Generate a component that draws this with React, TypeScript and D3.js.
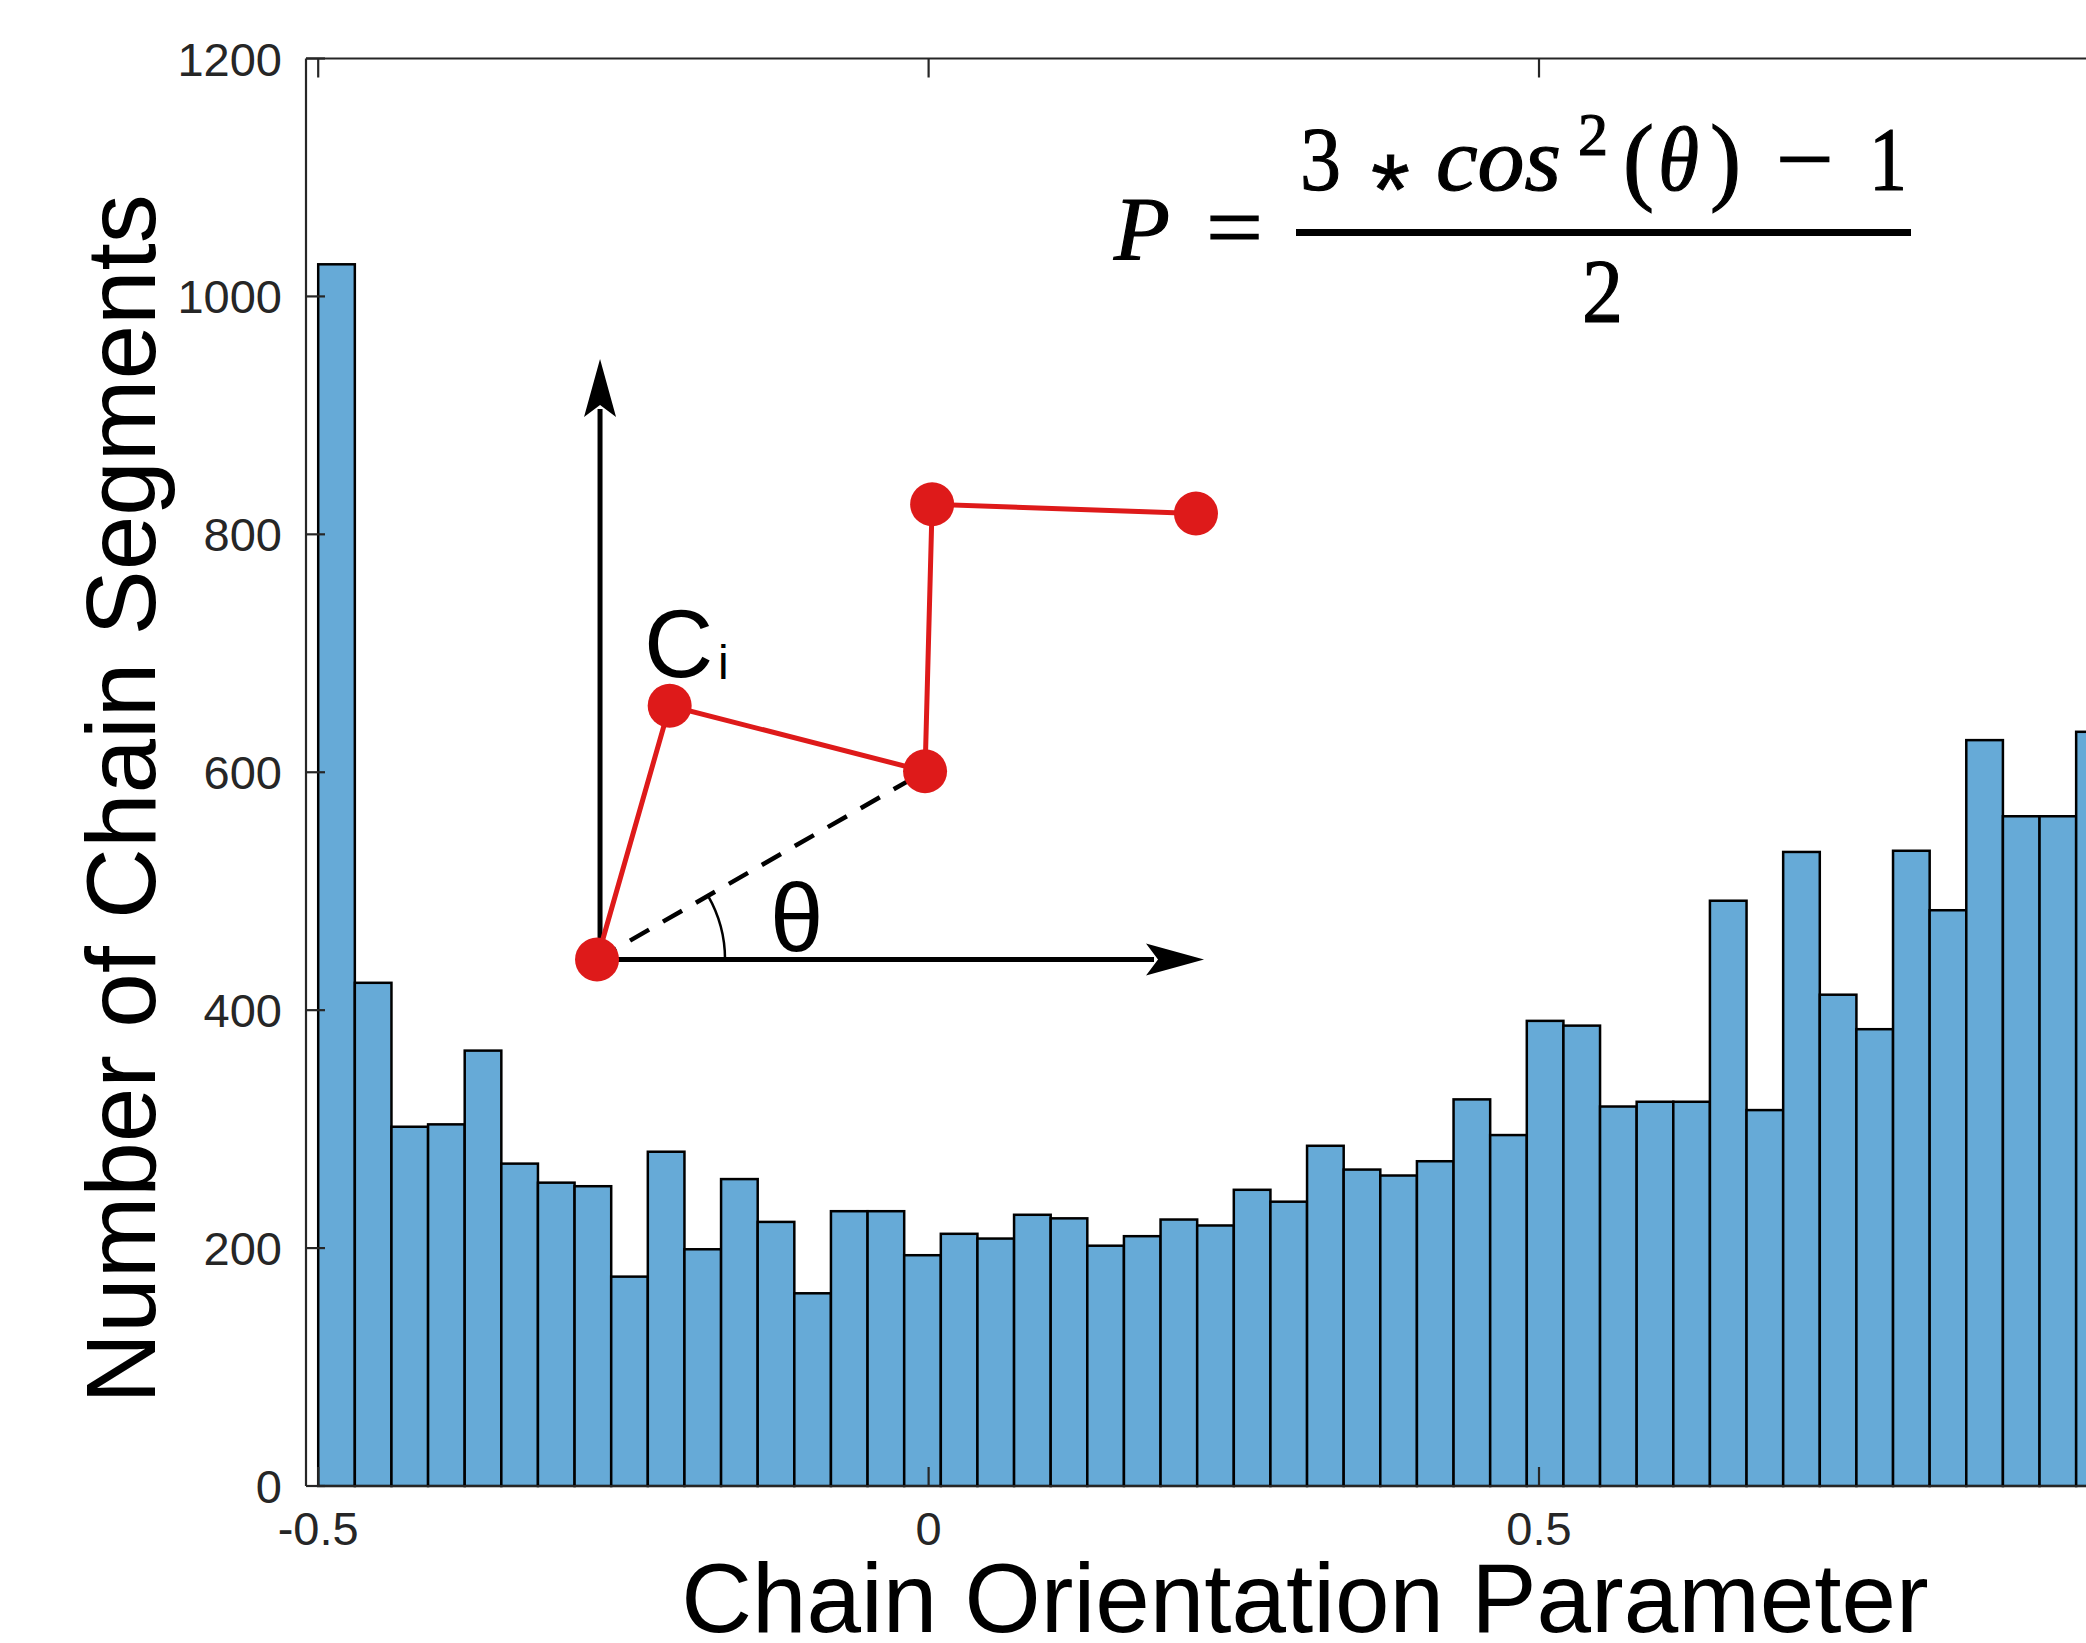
import { useEffect } from 'react'
import * as d3 from 'd3'

// histogram: bins of width 0.03 starting at -0.5 (last bins fall outside the cropped figure)
const BIN_START = -0.5
const BIN_WIDTH = 0.03
const counts = [
  1027, 423, 302, 304, 366, 271, 255, 252, 176, 281,
  199, 258, 222, 162, 231, 231, 194, 212, 208, 228,
  225, 202, 210, 224, 219, 249, 239, 286, 266, 261,
  273, 325, 295, 391, 387, 319, 323, 323, 492, 316,
  533, 413, 384, 534, 484, 627, 563, 563, 634,
]
const xTicks = [-0.5, 0, 0.5]
const xTickLabels = ['-0.5', '0', '0.5']
const yTicks = [0, 200, 400, 600, 800, 1000, 1200]

// inset sketch, in axis units (orientation, count)
const chainX = [-0.2716, -0.2121, -0.0029, 0.0029, 0.219]
const chainY = [442.6, 655.9, 600.8, 825.3, 817.5]
const arrowUpTop = 947.4
const arrowRightEnd = 0.2256

const W = 2086
const H = 1643
const AXIS = '#262626'
const SANS = '"Liberation Sans", Arial, Helvetica, sans-serif'
const SERIF = '"Liberation Serif", "Times New Roman", serif'

function arrowHead(tx: number, ty: number, dx: number, dy: number) {
  const len = 58
  const hw = 16
  const notch = 12
  const px = -dy
  const py = dx
  const bx = tx - dx * len
  const by = ty - dy * len
  const nx = tx - dx * (len - notch)
  const ny = ty - dy * (len - notch)
  return `M${tx},${ty}L${bx + px * hw},${by + py * hw}L${nx},${ny}L${bx - px * hw},${by - py * hw}Z`
}

export default function App() {
  useEffect(() => {
    document.body.style.margin = '0'
    document.body.style.overflow = 'hidden'
  }, [])

  const x = d3.scaleLinear().domain([-0.51, 1.0]).range([306, 306 + 1.51 * 1220.8])
  const y = d3.scaleLinear().domain([0, 1200]).range([1486, 58.5])

  const bars = counts.map((c, i) => {
    const x0 = BIN_START + i * BIN_WIDTH
    return { x: x(x0), w: x(x0 + BIN_WIDTH) - x(x0), y: y(c), h: y(0) - y(c) }
  })

  const pts = chainX.map((v, i) => [x(v), y(chainY[i])] as [number, number])
  const chainLine = d3.line()(pts) || ''
  const [ox, oy] = pts[0]
  const ang = Math.atan2(pts[2][1] - oy, pts[2][0] - ox)
  const arc = d3.path()
  arc.moveTo(ox + 128, oy)
  arc.arc(ox, oy, 128, 0, ang, true)

  const upTip = y(arrowUpTop)
  const rightTip = x(arrowRightEnd)

  const formula = [
    { t: 'P', x: 1114, y: 260, fs: 92, w: 56, it: true },
    { t: '=', x: 1206, y: 258, fs: 92, w: 57, it: false },
    { t: '3', x: 1300, y: 190, fs: 92, w: 41, it: false },
    { t: 'cos', x: 1436, y: 190, fs: 92, w: 125, it: true },
    { t: '2', x: 1578, y: 155, fs: 62, w: 30, it: false },
    { t: '(', x: 1623, y: 192, fs: 98, w: 31, it: false },
    { t: 'θ', x: 1658, y: 190, fs: 92, w: 41, it: true },
    { t: ')', x: 1710, y: 192, fs: 98, w: 31, it: false },
    { t: '−', x: 1776, y: 190, fs: 92, w: 58, it: false },
    { t: '1', x: 1869, y: 190, fs: 92, w: 38, it: false },
    { t: '2', x: 1582, y: 322, fs: 92, w: 41, it: false },
  ]

  return (
    <svg width={W} height={H} style={{ display: 'block', background: '#fff' }}>
      {/* bars */}
      <g>
        {bars.map((b, i) => (
          <rect key={i} x={b.x} y={b.y} width={b.w} height={b.h}
            fill="#66AAD7" stroke="#000" strokeWidth={2.5} />
        ))}
      </g>

      {/* axes box */}
      <g stroke={AXIS} strokeWidth={2.2} fill="none">
        <line x1={x(-0.51)} y1={y(0)} x2={W} y2={y(0)} />
        <line x1={x(-0.51)} y1={y(1200)} x2={W} y2={y(1200)} />
        <line x1={x(-0.51)} y1={y(0)} x2={x(-0.51)} y2={y(1200)} />
        {yTicks.map(t => (
          <line key={'y' + t} x1={x(-0.51)} x2={x(-0.51) + 19} y1={y(t)} y2={y(t)} />
        ))}
        {xTicks.map(t => (
          <g key={'x' + t}>
            <line x1={x(t)} x2={x(t)} y1={y(0)} y2={y(0) - 19} />
            <line x1={x(t)} x2={x(t)} y1={y(1200)} y2={y(1200) + 19} />
          </g>
        ))}
      </g>

      {/* tick labels */}
      <g fontFamily={SANS} fontSize={47} fill={AXIS}>
        {yTicks.map(t => (
          <text key={'yl' + t} x={282} y={y(t) + 17} textAnchor="end">{t}</text>
        ))}
        {xTicks.map((t, i) => (
          <text key={'xl' + t} x={x(t)} y={1545} textAnchor="middle">{xTickLabels[i]}</text>
        ))}
      </g>

      {/* axis labels */}
      <text x={1305} y={1632} textAnchor="middle" fontFamily={SANS} fontSize={98} fill="#000">
        Chain Orientation Parameter
      </text>
      <text transform="translate(155,799) rotate(-90)" textAnchor="middle"
        fontFamily={SANS} fontSize={98} fill="#000">
        Number of Chain Segments
      </text>

      {/* inset: reference frame and chain */}
      <g>
        <line x1={ox + 3} y1={oy} x2={ox + 3} y2={upTip + 50} stroke="#000" strokeWidth={5} />
        <path d={arrowHead(ox + 3, upTip, 0, -1)} fill="#000" />
        <line x1={ox} y1={oy} x2={rightTip - 50} y2={oy} stroke="#000" strokeWidth={5} />
        <path d={arrowHead(rightTip, oy, 1, 0)} fill="#000" />
        <line x1={ox} y1={oy} x2={pts[2][0]} y2={pts[2][1]} stroke="#000" strokeWidth={4.5}
          strokeDasharray="22 16" />
        <path d={arc.toString()} fill="none" stroke="#000" strokeWidth={2.5} />
        <path d={chainLine} fill="none" stroke="#DE1A1A" strokeWidth={5} />
        {pts.map((p, i) => (
          <circle key={i} cx={p[0]} cy={p[1]} r={22} fill="#DE1A1A" />
        ))}
        <text x={770} y={951} fontFamily={SANS} fontSize={96} fill="#000">θ</text>
        <text x={644} y={677} fontFamily={SANS} fontSize={96} fill="#000">C</text>
        <text x={718} y={679} fontFamily={SANS} fontSize={48} fill="#000">i</text>
      </g>

      {/* formula */}
      <g fontFamily={SERIF} fill="#000" stroke="#000" strokeWidth={1.2}>
        {formula.map((f, i) => (
          <text key={i} x={f.x} y={f.y} fontSize={f.fs} fontStyle={f.it ? 'italic' : 'normal'}
            textLength={f.w} lengthAdjust="spacingAndGlyphs">{f.t}</text>
        ))}
        <text x={1371} y={224} fontFamily={SANS} fontSize={100} strokeWidth={0.8}>*</text>
        <rect x={1296} y={229} width={615} height={7} stroke="none" />
      </g>
    </svg>
  )
}
